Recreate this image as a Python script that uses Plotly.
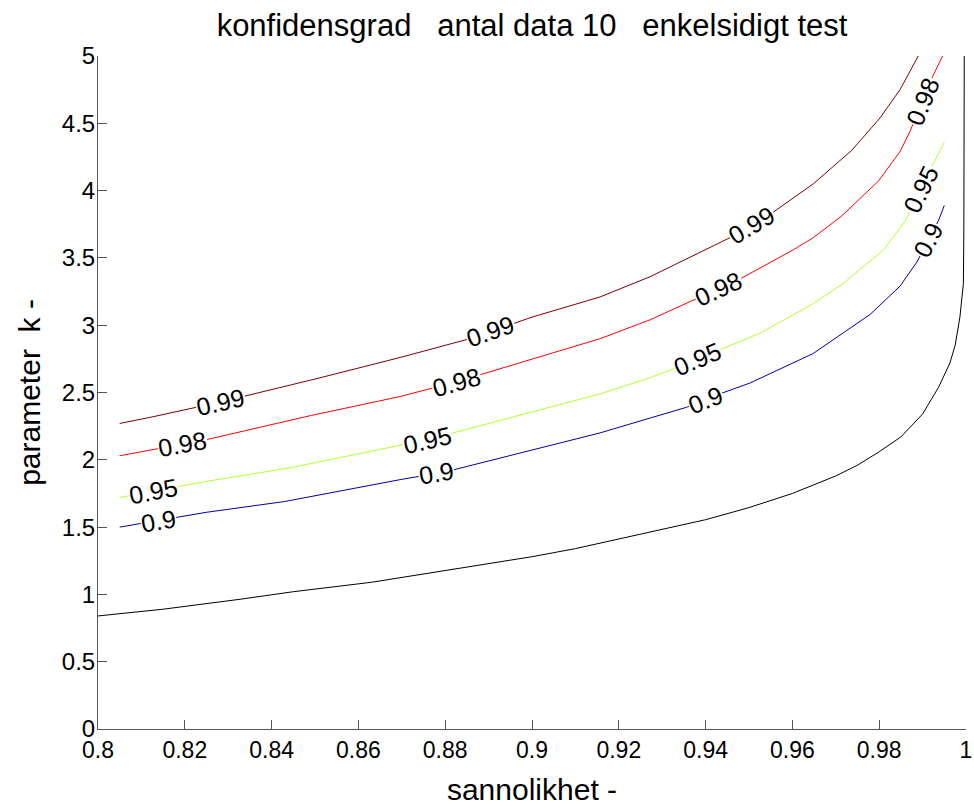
import numpy as np
import plotly.graph_objects as go

# ---------------- data ----------------
# black curve (limit curve)
p_black = [0.800, 0.815, 0.833, 0.845, 0.863, 0.879, 0.890, 0.900, 0.910, 0.920,
           0.930, 0.940, 0.950, 0.960, 0.970, 0.975, 0.980, 0.985, 0.990, 0.9937,
           0.9963, 0.9975, 0.9986, 0.9994, 0.9995, 0.9996]
k_black = [0.84, 0.89, 0.965, 1.02, 1.09, 1.17, 1.23, 1.28, 1.34, 1.41,
           1.48, 1.555, 1.645, 1.75, 1.88, 1.96, 2.06, 2.17, 2.34, 2.54,
           2.72, 2.85, 3.06, 3.31, 3.70, 5.00]

# contour level 0.9
p_090 = [0.805, 0.825, 0.843, 0.870, 0.880, 0.900, 0.9157, 0.9272, 0.9356, 0.9433,
         0.9502, 0.9648, 0.9717, 0.9779, 0.9848, 0.9887, 0.9937, 0.995]
k_090 = [1.50, 1.61, 1.69, 1.855, 1.91, 2.07, 2.20, 2.31, 2.39, 2.49,
         2.57, 2.79, 2.94, 3.08, 3.29, 3.47, 3.78, 3.89]

# contour level 0.95
p_095 = [0.805, 0.825, 0.8442, 0.8711, 0.876, 0.9157, 0.9272, 0.933, 0.9433, 0.9525,
         0.9648, 0.9717, 0.981, 0.9859, 0.9909, 0.995]
k_095 = [1.72, 1.84, 1.94, 2.12, 2.15, 2.49, 2.61, 2.68, 2.82, 2.94,
         3.16, 3.31, 3.56, 3.77, 4.10, 4.36]

# contour level 0.98
p_098 = [0.805, 0.825, 0.8492, 0.8696, 0.8827, 0.9157, 0.9272, 0.9376, 0.9483, 0.9602,
         0.9648, 0.9713, 0.9752, 0.9798, 0.9848, 0.9871, 0.9919, 0.9946]
k_098 = [2.03, 2.15, 2.33, 2.47, 2.58, 2.90, 3.04, 3.19, 3.35, 3.56,
         3.65, 3.81, 3.93, 4.07, 4.29, 4.44, 4.82, 5.00]

# contour level 0.99
p_099 = [0.805, 0.8127, 0.8283, 0.850, 0.8696, 0.8857, 0.900, 0.9157, 0.9272, 0.9456,
         0.9556, 0.9648, 0.9737, 0.9802, 0.9848, 0.989]
k_099 = [2.27, 2.32, 2.43, 2.60, 2.76, 2.90, 3.06, 3.21, 3.36, 3.65,
         3.84, 4.05, 4.30, 4.54, 4.75, 5.00]

levels = ["0.9", "0.95", "0.98", "0.99"]
label_p = {
    "0.9": [0.8139, 0.8779, 0.9399, 0.9913],
    "0.95": [0.8129, 0.876, 0.9381, 0.9896],
    "0.98": [0.8195, 0.8827, 0.9429, 0.9899],
    "0.99": [0.8283, 0.8905, 0.9506],
}

x_tickvals = [0.80, 0.82, 0.84, 0.86, 0.88, 0.90, 0.92, 0.94, 0.96, 0.98, 1.00]
x_ticktext = ["0.8", "0.82", "0.84", "0.86", "0.88", "0.9", "0.92", "0.94", "0.96", "0.98", "1"]
y_tickvals = [0, 0.5, 1, 1.5, 2, 2.5, 3, 3.5, 4, 4.5, 5]
y_ticktext = ["0", "0.5", "1", "1.5", "2", "2.5", "3", "3.5", "4", "4.5", "5"]

title_text = "konfidensgrad\u00a0\u00a0\u00a0antal data 10\u00a0\u00a0\u00a0enkelsidigt test"
xlabel = "sannolikhet -"
ylabel = "parameter\u00a0\u00a0k -"

# ---------------- figure ----------------
W, H = 974, 808
ML, MR, MT, MB = 98, 8, 56, 79
XR = (0.8, 1.0)
YR = (0.0, 5.0)
FONT = "Arial, 'Liberation Sans', Helvetica, sans-serif"

series = {
    "0.9": (p_090, k_090, "rgb(0,0,165)"),
    "0.95": (p_095, k_095, "rgb(175,255,50)"),
    "0.98": (p_098, k_098, "rgb(255,0,0)"),
    "0.99": (p_099, k_099, "rgb(128,0,0)"),
}

fig = go.Figure()
fig.add_trace(go.Scatter(x=p_black, y=k_black, mode="lines",
                         line=dict(color="black", width=1), showlegend=False,
                         hoverinfo="skip"))
for lev in levels:
    px, py, col = series[lev]
    fig.add_trace(go.Scatter(x=px, y=py, mode="lines", name=lev,
                             line=dict(color=col, width=1), showlegend=False))

sx = (W - ML - MR) / (XR[1] - XR[0])
sy = (H - MT - MB) / (YR[1] - YR[0])
annotations = []
for lev in levels:
    px, py, col = series[lev]
    for xl in label_p[lev]:
        yl = float(np.interp(xl, px, py))
        d = 0.0015
        y1 = float(np.interp(xl - d, px, py))
        y2 = float(np.interp(xl + d, px, py))
        ang = np.degrees(np.arctan2((y2 - y1) * sy, 2 * d * sx))
        annotations.append(dict(x=xl, y=yl, xref="x", yref="y", text=lev,
                                showarrow=False, textangle=-ang,
                                font=dict(family=FONT, size=25, color="black"),
                                bgcolor="white", borderpad=0,
                                xanchor="center", yanchor="middle"))

fig.update_layout(
    template="none",
    width=W, height=H,
    margin=dict(l=ML, r=MR, t=MT, b=MB, autoexpand=False),
    paper_bgcolor="white", plot_bgcolor="white",
    font=dict(family=FONT, color="black"),
    title=dict(text=title_text, x=(ML + (W - ML - MR) / 2) / W, xanchor="center",
               y=1 - 25 / H, yanchor="middle", yref="container",
               font=dict(size=31, family=FONT, color="black")),
    annotations=annotations,
    xaxis=dict(range=list(XR), tickvals=x_tickvals, ticktext=x_ticktext,
               automargin=False,
               showgrid=False, zeroline=False, showline=True, linecolor="#555",
               linewidth=1, mirror=False, ticks="inside", ticklen=9,
               tickcolor="#555", tickfont=dict(size=23, family=FONT),
               title=dict(text=xlabel, font=dict(size=30, family=FONT), standoff=17)),
    yaxis=dict(range=list(YR), tickvals=y_tickvals, ticktext=y_ticktext,
               automargin=False, ticklabelstandoff=-3,
               showgrid=False, zeroline=False, showline=True, linecolor="#555",
               linewidth=1, mirror=False, ticks="inside", ticklen=9,
               tickcolor="#555", tickfont=dict(size=24, family=FONT),
               title=dict(text=ylabel, font=dict(size=30, family=FONT), standoff=12)),
)

fig.write_html("out.html")
